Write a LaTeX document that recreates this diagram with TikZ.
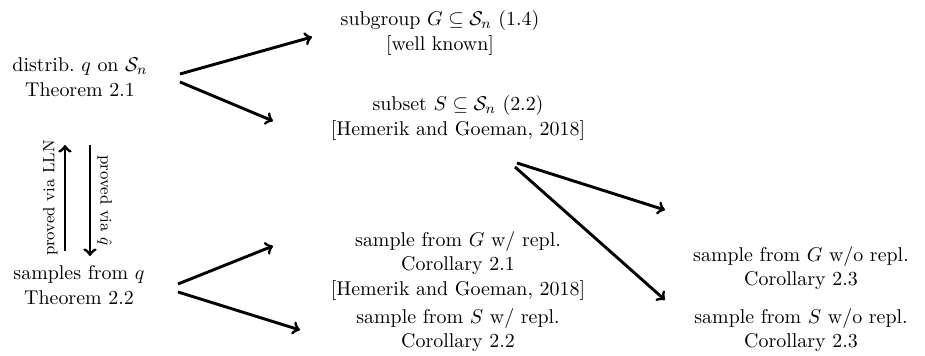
\documentclass[tikz,border=0pt]{standalone}
\usepackage{amsmath,amssymb}
\usepackage{tikz}
\usetikzlibrary{calc}

\begin{document}
\begin{tikzpicture}[
   x=0.5497pt,y=-0.5497pt,
   res/.style={align=center,inner sep=3pt,font=\fontsize{10.95}{13.6}\selectfont},
   imp/.style={->,line width=1.6pt},
]
\useasboundingbox (0,0) rectangle (925,356);
\node[res] (dist) at (80,77) {distrib.\ $q$ on $\mathcal{S}_n$\\ Theorem 2.1};
\node[res] (samp) at (79,285) {samples from $q$\\ Theorem 2.2};
\node[res] (sgrp) at (440,33) {subgroup $G\subseteq\mathcal{S}_n$\ (1.4)\\ {[well known]}};
\node[res] (sset) at (458,118) {subset $S\subseteq\mathcal{S}_n$\ (2.2)\\ {[Hemerik and Goeman, 2018]}};
\node[res] (gwr) at (458,266) {sample from $G$ w/ repl.\\ Corollary 2.1\\ {[Hemerik and Goeman, 2018]}};
\node[res] (swr) at (458,330) {sample from $S$ w/ repl.\\ Corollary 2.2};
\node[res] (gwo) at (801,268) {sample from $G$ w/o repl.\\ Corollary 2.3};
\node[res] (swo) at (801,330) {sample from $S$ w/o repl.\\ Corollary 2.3};

% top fork
\draw[imp] ($(dist)+(100,-3)$) -- ($(sgrp)+(-128,4)$);
\draw[imp] ($(dist)+(100,5)$) -- ($(sset)+(-185,3)$);
% bottom fork
\draw[imp] ($(samp)+(99,-1)$) -- ($(gwr)+(-185,-20)$);
\draw[imp] ($(samp)+(99,7)$) -- ($(swr)+(-158,0)$);
% from subset
\draw[imp] ($(sset)+(59,45)$) -- ($(gwo)+(-136,-58)$);
\draw[imp] ($(sset)+(57,49)$) -- ($(swo)+(-136,-30)$);
% equivalence
\draw[imp] ($(samp)+(-14,-34)$) -- node[rotate=90,anchor=south,font=\small] {proved via LLN} ($(dist)+(-15,68)$);
\draw[imp] ($(dist)+(10,68)$) -- node[rotate=-90,anchor=south,font=\small] {proved via $\hat{q}$} ($(samp)+(11,-29)$);
\end{tikzpicture}
\end{document}
